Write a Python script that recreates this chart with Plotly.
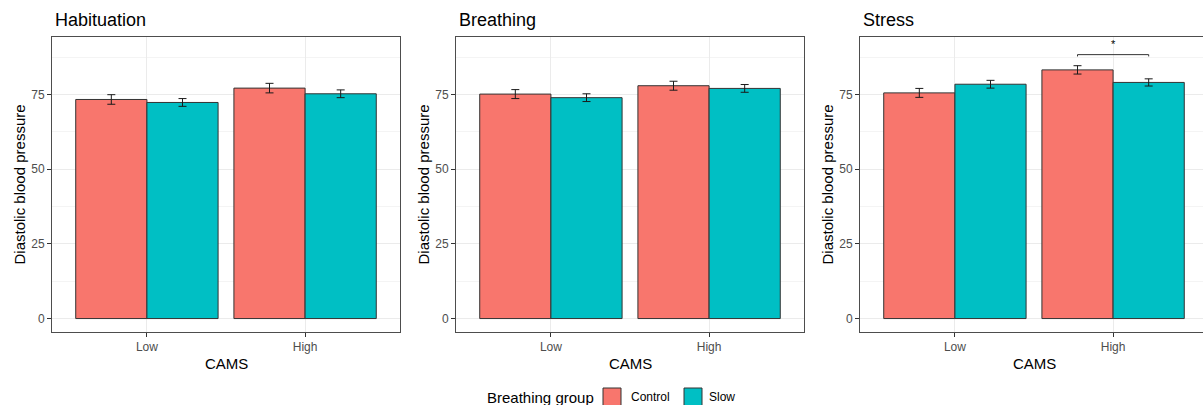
import plotly.graph_objects as go

W, H = 1203, 405

# ---- data ----
panels = ["Habituation", "Breathing", "Stress"]
cams = ["Low", "High"]
groups = ["Control", "Slow"]
colors = {"Control": "#F8766D", "Slow": "#00BFC4"}

hab_control = [73.3, 77.1]
hab_slow = [72.3, 75.2]
hab_control_se = [1.6, 1.6]
hab_slow_se = [1.3, 1.3]

bre_control = [75.1, 77.9]
bre_slow = [73.9, 77.0]
bre_control_se = [1.5, 1.5]
bre_slow_se = [1.3, 1.3]

str_control = [75.5, 83.2]
str_slow = [78.4, 79.0]
str_control_se = [1.5, 1.4]
str_slow_se = [1.3, 1.2]

y_ticks = [0, 25, 50, 75]
sig_label = "*"
sig_y = 88.3
sig_label_y = 91.8

values = {
    "Habituation": (hab_control, hab_slow, hab_control_se, hab_slow_se),
    "Breathing": (bre_control, bre_slow, bre_control_se, bre_slow_se),
    "Stress": (str_control, str_slow, str_control_se, str_slow_se),
}

# ---- layout geometry (pixels) ----
panel_left = [52, 456, 860]
panel_w = 348
panel_top, panel_bot = 37, 332
px_per_unit = panel_w / 2.2

fig = go.Figure()

for i, name in enumerate(panels):
    k = "" if i == 0 else str(i + 1)
    c, s, cse, sse = values[name]
    for g, vals, se in (("Control", c, cse), ("Slow", s, sse)):
        fig.add_trace(go.Bar(
            x=cams, y=vals, name=g, showlegend=False,
            marker=dict(color=colors[g], line=dict(color="#333333", width=1)),
            error_y=dict(type="data", array=se, color="#1a1a1a", thickness=1, width=4),
            xaxis="x" + k, yaxis="y" + k,
        ))
    x0 = panel_left[i]
    x1 = min(x0 + panel_w, W)
    xr_hi = -0.6 + (x1 - x0) / px_per_unit
    fig.layout["xaxis" + k] = dict(
        domain=[x0 / W, x1 / W], anchor="y" + k, type="category",
        range=[-0.6, xr_hi], showgrid=True, gridcolor="#EBEBEB", gridwidth=1,
        showline=True, linecolor="#4d4d4d", linewidth=1, mirror=True,
        ticks="outside", ticklen=4, tickcolor="#333333",
        tickfont=dict(family="Liberation Sans, Arial", size=12, color="#4D4D4D"),
        zeroline=False, fixedrange=True,
    )
    fig.layout["yaxis" + k] = dict(
        domain=[1 - panel_bot / H, 1 - panel_top / H], anchor="x" + k,
        range=[-4.5, 94.2], tickvals=y_ticks, showgrid=True, gridcolor="#EBEBEB", gridwidth=1,
        minor=dict(tickvals=[12.5, 37.5, 62.5, 87.5], showgrid=True, gridcolor="#F4F4F4", gridwidth=0.7),
        showline=True, linecolor="#4d4d4d", linewidth=1, mirror=(i < 2),
        ticks="outside", ticklen=4, tickcolor="#333333",
        tickfont=dict(family="Liberation Sans, Arial", size=12, color="#4D4D4D"),
        zeroline=False, fixedrange=True,
    )
    # panel title
    fig.add_annotation(text=name, xref="paper", yref="paper", x=(x0 + 1) / W, y=1 - 20 / H,
                       xanchor="left", yanchor="middle", showarrow=False,
                       font=dict(family="Liberation Sans, Arial", size=18, color="#000000"))
    # axis titles
    fig.add_annotation(text="Diastolic blood pressure", xref="paper", yref="paper",
                       x=(x0 - 33) / W, y=1 - (panel_top + panel_bot) / 2 / H, textangle=-90,
                       xanchor="center", yanchor="middle", showarrow=False,
                       font=dict(family="Liberation Sans, Arial", size=15, color="#000000"))
    fig.add_annotation(text="CAMS", xref="paper", yref="paper",
                       x=(x0 + panel_w / 2) / W, y=1 - 363 / H,
                       xanchor="center", yanchor="middle", showarrow=False,
                       font=dict(family="Liberation Sans, Arial", size=15, color="#000000"))

# significance bracket on Stress panel (High: Control vs Slow)
fig.add_shape(type="path", xref="x3", yref="y3",
              path=f"M 0.775,{sig_y - 0.6} L 0.775,{sig_y} L 1.225,{sig_y} L 1.225,{sig_y - 0.6}",
              line=dict(color="#333333", width=1))
fig.add_annotation(text=sig_label, xref="x3", yref="y3", x=1, y=sig_label_y,
                   showarrow=False, font=dict(family="Liberation Sans, Arial", size=11, color="#000000"))

# legend (drawn manually)
leg_y = 397
fig.add_annotation(text="Breathing group", xref="paper", yref="paper", x=485 / W, y=1 - leg_y / H,
                   xanchor="left", yanchor="middle", showarrow=False,
                   font=dict(family="Liberation Sans, Arial", size=15, color="#000000"))
for g, bx, tx in (("Control", 603, 629), ("Slow", 684, 707)):
    fig.add_shape(type="rect", xref="paper", yref="paper",
                  x0=bx / W, x1=(bx + 18) / W, y0=1 - (leg_y + 9) / H, y1=1 - (leg_y - 9) / H,
                  fillcolor=colors[g], line=dict(color="#333333", width=1))
    fig.add_annotation(text=g, xref="paper", yref="paper", x=tx / W, y=1 - leg_y / H,
                       xanchor="left", yanchor="middle", showarrow=False,
                       font=dict(family="Liberation Sans, Arial", size=12, color="#000000"))

fig.update_layout(
    width=W, height=H, margin=dict(l=0, r=0, t=0, b=0),
    paper_bgcolor="white", plot_bgcolor="white",
    barmode="group", bargap=0.1, bargroupgap=0,
    showlegend=False,
)

fig.write_html("out.html", config={"displayModeBar": False})
